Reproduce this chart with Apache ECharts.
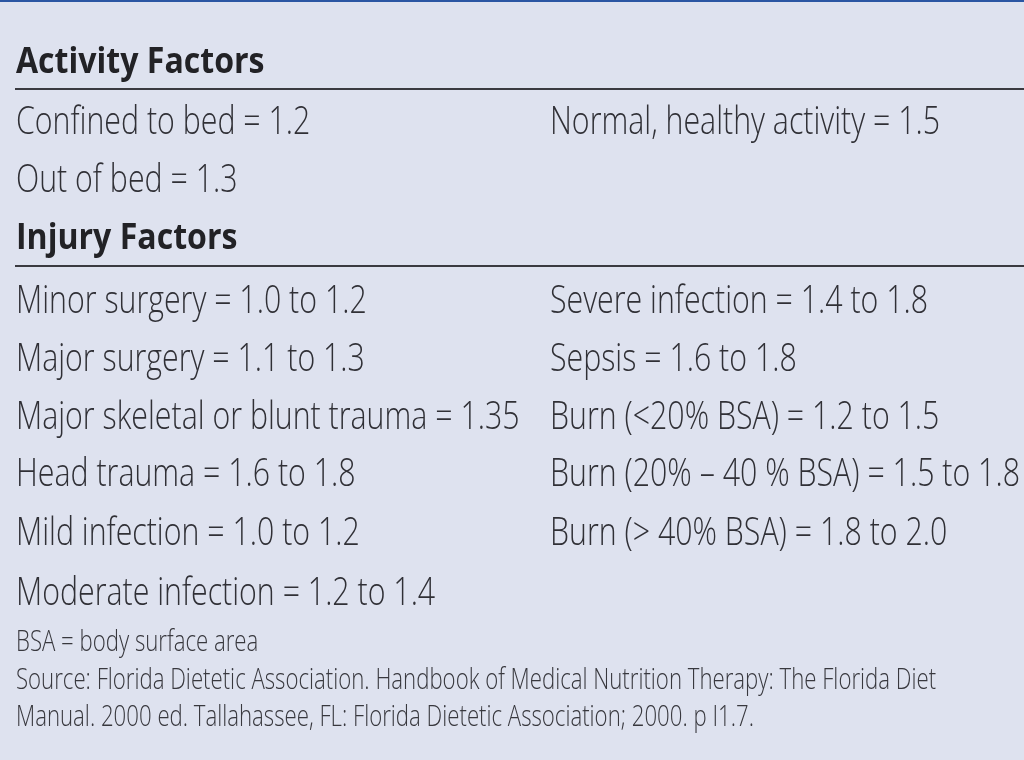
<!DOCTYPE html>
<html>
<head>
<meta charset="utf-8">
<script src="https://cdn.jsdelivr.net/npm/echarts@6/dist/echarts.min.js"></script>
<style>html,body{margin:0;padding:0;background:#dee2ef;}#c{width:1024px;height:760px;}</style>
</head>
<body>
<div id="c"></div>
<script>
// ---- data ----
var sectionTitles = ['Activity Factors', 'Injury Factors'];
var activityLeft = ['Confined to bed = 1.2', 'Out of bed = 1.3'];
var activityRight = ['Normal, healthy activity = 1.5'];
var injuryLeft = [
  'Minor surgery = 1.0 to 1.2',
  'Major surgery = 1.1 to 1.3',
  'Major skeletal or blunt trauma = 1.35',
  'Head trauma = 1.6 to 1.8',
  'Mild infection = 1.0 to 1.2',
  'Moderate infection = 1.2 to 1.4'
];
var injuryRight = [
  'Severe infection = 1.4 to 1.8',
  'Sepsis = 1.6 to 1.8',
  'Burn (<20% BSA) = 1.2 to 1.5',
  'Burn (20% \u2013 40 % BSA) = 1.5 to 1.8',
  'Burn (> 40% BSA) = 1.8 to 2.0'
];
var footnotes = [
  'BSA = body surface area',
  'Source: Florida Dietetic Association. Handbook of Medical Nutrition Therapy: The Florida Diet',
  'Manual. 2000 ed. Tallahassee, FL: Florida Dietetic Association; 2000. p I1.7.'
];

// ---- layout ----
var FONT = '"Open Sans","Liberation Sans",sans-serif';
var cv = document.createElement('canvas').getContext('2d');
function fontStr(size, weight) { return weight + ' ' + size + 'px ' + FONT; }
function measure(txt, size, weight) {
  cv.font = fontStr(size, weight);
  return cv.measureText(txt).width;
}
// distance from the 'middle' text baseline down to the alphabetic baseline
function midToBase(size, weight) {
  cv.font = fontStr(size, weight);
  cv.textBaseline = 'middle';
  var d = cv.measureText('H').actualBoundingBoxDescent;
  cv.textBaseline = 'alphabetic';
  return d;
}
var bodySize = 38, headSize = 36, noteSize = 29;
var bodyW = '300', headW = 'bold', noteW = '300';
var bodyScale = 1.015 * Math.min(508 / measure(injuryLeft[2], bodySize, bodyW), 463 / measure(injuryRight[3], bodySize, bodyW));
var headScale = (249 / measure(sectionTitles[0], headSize, headW) + 221 / measure(sectionTitles[1], headSize, headW)) / 2;
var noteScale = (940 / measure(footnotes[1], noteSize, noteW) + 722 / measure(footnotes[2], noteSize, noteW)) / 2;

var LX = 16, RX = 550, COLOR = '#303036';
var graphics = [];
graphics.push({type: 'rect', shape: {x: 0, y: 0, width: 1024, height: 2}, style: {fill: '#2a56a3'}});
function text(str, x, baseY, size, weight, scale, color) {
  graphics.push({
    type: 'text', x: x, y: baseY - midToBase(size, weight), scaleX: scale,
    style: {text: str, x: 0, y: 0, fill: color || COLOR, font: fontStr(size, weight),
      verticalAlign: 'middle', align: 'left'}
  });
}
function rule(y) {
  graphics.push({type: 'rect', shape: {x: 15, y: y, width: 1009, height: 2}, style: {fill: '#3a3a40'}});
}
text(sectionTitles[0], LX, 73, headSize, headW, headScale, '#222226');
rule(88);
var actY = [134, 192];
activityLeft.forEach(function (s, i) { text(s, LX, actY[i], bodySize, bodyW, bodyScale); });
activityRight.forEach(function (s, i) { text(s, RX, actY[i], bodySize, bodyW, bodyScale); });
text(sectionTitles[1], LX, 249, headSize, headW, headScale, '#222226');
rule(265);
var injY = [313, 371, 429, 486, 545, 605];
injuryLeft.forEach(function (s, i) { text(s, LX, injY[i], bodySize, bodyW, bodyScale); });
injuryRight.forEach(function (s, i) { text(s, RX, injY[i], bodySize, bodyW, bodyScale); });
var noteY = [651, 689, 726];
footnotes.forEach(function (s, i) { text(s, LX, noteY[i], noteSize, noteW, noteScale, '#38383e'); });

var chart = echarts.init(document.getElementById('c'), null, {renderer: 'canvas'});
chart.setOption({backgroundColor: '#dee2ef', animation: false, graphic: {elements: graphics}});
</script>
</body>
</html>
